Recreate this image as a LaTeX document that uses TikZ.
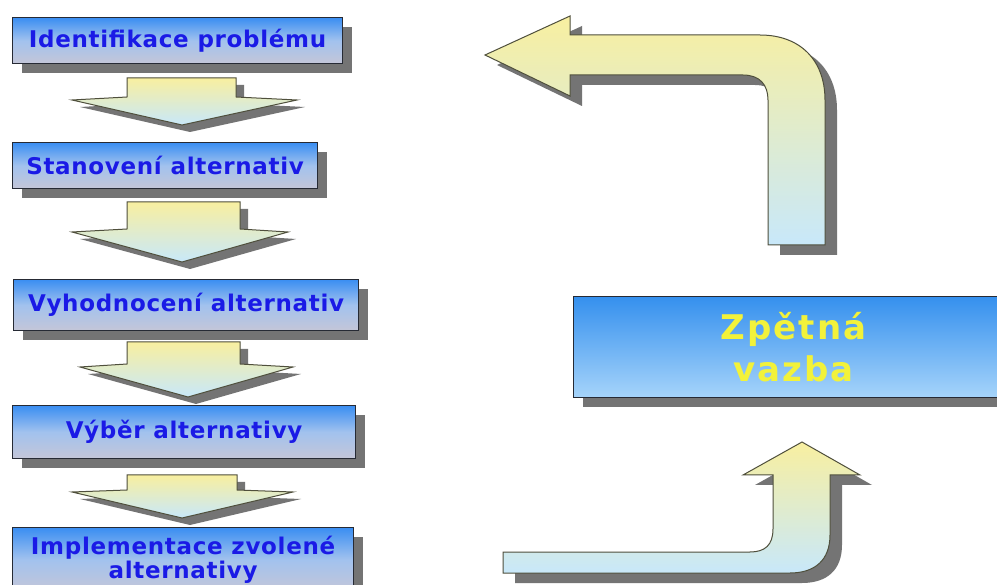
\documentclass[tikz,border=0pt]{standalone}
\usepackage{fontspec}
\setmainfont{DejaVu Sans}
\newfontfamily\boxfont[LetterSpace=3]{DejaVu Sans}
\newfontfamily\zvfont[LetterSpace=6]{DejaVu Sans}
\usetikzlibrary{shadows}
\definecolor{boxtop}{HTML}{3A8EF2}
\definecolor{boxmid}{HTML}{A2C2EE}
\definecolor{boxbot}{HTML}{C4C6D8}
\definecolor{boxedge}{HTML}{262A34}
\definecolor{txtblue}{HTML}{1A1AE6}
\definecolor{arrtop}{HTML}{F8EFA0}
\definecolor{arrbot}{HTML}{C8E8FA}
\definecolor{arredge}{HTML}{4F4F3C}
\definecolor{shad}{HTML}{747474}
\definecolor{zvtop}{HTML}{3590EE}
\definecolor{zvbot}{HTML}{A6D4FA}
\definecolor{zvtext}{HTML}{F2F23A}
\tikzset{
  stepbox/.style={draw=boxedge, line width=1.2pt, top color=boxtop, bottom color=boxbot, middle color=boxmid,
    drop shadow={shadow xshift=9pt, shadow yshift=-9pt, fill=shad, opacity=1},
    inner sep=0pt, anchor=north west, text=txtblue, align=center,
    font=\boxfont\bfseries\fontsize{23}{24}\selectfont},
  zvbox/.style={draw=boxedge, line width=1.2pt, top color=zvtop, bottom color=zvbot,
    drop shadow={shadow xshift=9pt, shadow yshift=-9pt, fill=shad, opacity=1},
    inner sep=0pt, anchor=north west, text=zvtext, align=center,
    font=\zvfont\bfseries\fontsize{34}{42}\selectfont},
  blockarrow/.style={draw=arredge, line width=1pt, top color=arrtop, bottom color=arrbot, line join=miter},
  smallshadow/.style={drop shadow={shadow xshift=8pt, shadow yshift=-7pt, fill=shad, opacity=1}},
  bigshadow/.style={drop shadow={shadow xshift=12pt, shadow yshift=-10pt, fill=shad, opacity=1}},
}
\begin{document}
\begin{tikzpicture}[x=1pt,y=-1pt]
\clip (0,0) rectangle (997,585);
\fill[white] (0,0) rectangle (997,585);

% left column boxes
\node[stepbox, minimum width=330pt, minimum height=46pt] (b1) at (12,17) {Identifikace problému};
\node[stepbox, minimum width=305pt, minimum height=46pt] (b2) at (12,142) {Stanovení alternativ};
\node[stepbox, minimum width=345pt, minimum height=51pt] (b3) at (13,279) {Vyhodnocení alternativ};
\node[stepbox, minimum width=343pt, minimum height=53pt] (b4) at (12,405) {Výběr alternativy};
\node[stepbox, minimum width=341pt, minimum height=64pt] (b5) at (12,527) {Implementace zvolené\\alternativy};

% down arrows
\path[blockarrow, smallshadow] (127,78) -- (236,78) -- (236,97) -- (297,100) -- (182,125) -- (72,100) -- (127,97) -- cycle;
\path[blockarrow, smallshadow] (127,202) -- (240,202) -- (240,229) -- (288,232) -- (182,262) -- (72,232) -- (127,229) -- cycle;
\path[blockarrow, smallshadow] (127,342) -- (240,342) -- (240,364) -- (293,367) -- (188,397) -- (80,367) -- (127,364) -- cycle;
\path[blockarrow, smallshadow] (127,475) -- (237,475) -- (237,490) -- (293,492) -- (182,518) -- (72,492) -- (127,490) -- cycle;

% feedback box
\node[zvbox, minimum width=440pt, minimum height=101pt] (zv) at (573,296) {Zpětná\\vazba};

% top right bent arrow
\path[blockarrow, bigshadow] (485,55) -- (570,16) -- (570,35) -- (760,35)
  .. controls (800,35) and (825,60) .. (825,100) -- (825,245) -- (768,245) -- (768,100)
  .. controls (768,85) and (760,75) .. (743,75) -- (570,75) -- (570,96) -- cycle;

% bottom right bent arrow
\path[blockarrow, bigshadow] (503,552) -- (750,552)
  .. controls (765,552) and (773,545) .. (773,529) -- (773,475) -- (743,475) -- (802,442)
  -- (860,475) -- (830,475) -- (830,535)
  .. controls (830,560) and (815,573) .. (790,573) -- (503,573) -- cycle;
\end{tikzpicture}
\end{document}
